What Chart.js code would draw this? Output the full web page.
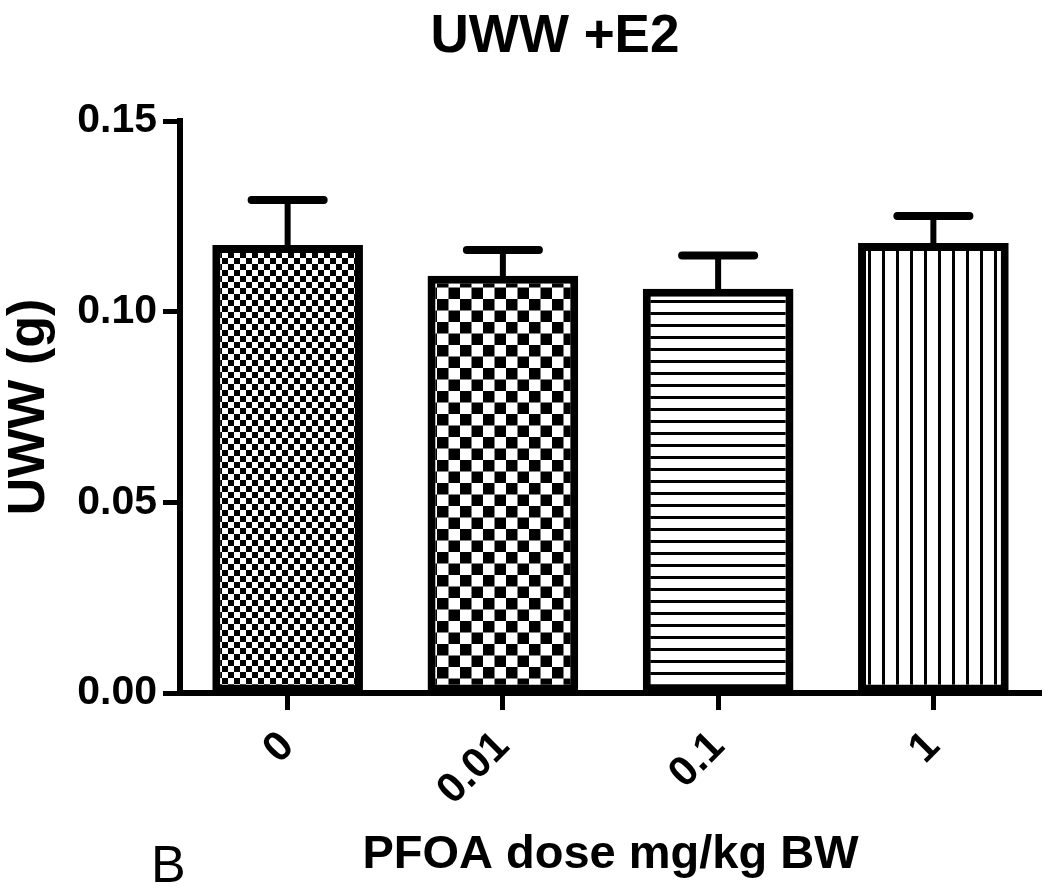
<!DOCTYPE html>
<html>
<head>
<meta charset="utf-8">
<script src="https://cdn.jsdelivr.net/npm/chart.js@4/dist/chart.umd.min.js"></script>
<style>
  html, body { margin: 0; padding: 0; background: #ffffff; }
  #c { display: block; }
</style>
</head>
<body>
<canvas id="c" width="1050" height="893"></canvas>
<script>
// ---- data ----
const categories = ["0", "0.01", "0.1", "1"];
const means = [0.1175, 0.1094, 0.1060, 0.1180];
const sems = [0.0118, 0.0068, 0.0087, 0.0071];
const yTicks = [0.00, 0.05, 0.10, 0.15];
const chartTitle = "UWW +E2";
const xTitle = "PFOA dose mg/kg BW";
const yTitle = "UWW (g)";
const panelLabel = "B";

const FONT = "'Liberation Sans', Arial, Helvetica, sans-serif";

// ---- fill patterns ----
function makePattern(w, h, draw) {
  const c = document.createElement('canvas');
  c.width = w; c.height = h;
  const g = c.getContext('2d');
  g.fillStyle = '#fff'; g.fillRect(0, 0, w, h);
  g.fillStyle = '#000';
  draw(g, w, h);
  return document.getElementById('c').getContext('2d').createPattern(c, 'repeat');
}
const patFineChecker = makePattern(12, 12, (g) => { g.fillRect(0, 0, 6, 6); g.fillRect(6, 6, 6, 6); });
const patCoarseChecker = makePattern(23, 23, (g) => { g.fillRect(0, 0, 11.5, 11.5); g.fillRect(11.5, 11.5, 11.5, 11.5); });
const patHLines = makePattern(12, 12, (g) => { g.fillRect(0, 0, 12, 3); });
const patVLines = makePattern(14, 14, (g) => { g.fillRect(0, 0, 3, 14); });
const fills = [patFineChecker, patCoarseChecker, patHLines, patVLines];

// ---- plugins ----
const errorBars = {
  id: 'errorBars',
  afterDatasetsDraw(chart) {
    const ctx = chart.ctx;
    const meta = chart.getDatasetMeta(0);
    const y = chart.scales.y;
    ctx.save();
    ctx.strokeStyle = '#000';
    ctx.lineCap = 'round';
    meta.data.forEach((bar, i) => {
      const x = bar.x;
      const yTop = y.getPixelForValue(means[i]);
      const yErr = y.getPixelForValue(means[i] + sems[i]);
      ctx.lineWidth = 6;
      ctx.beginPath();
      ctx.moveTo(x, yTop);
      ctx.lineTo(x, yErr);
      ctx.stroke();
      ctx.lineWidth = 8;
      ctx.beginPath();
      ctx.moveTo(x - 36, yErr);
      ctx.lineTo(x + 36, yErr);
      ctx.stroke();
    });
    ctx.restore();
  }
};

const extraText = {
  id: 'extraText',
  afterDraw(chart) {
    const ctx = chart.ctx;
    ctx.save();
    ctx.fillStyle = '#000';
    ctx.textAlign = 'center';
    ctx.textBaseline = 'alphabetic';
    ctx.font = "bold 53px " + FONT;
    ctx.fillText(chartTitle, 555, 52);
    ctx.textAlign = 'left';
    ctx.font = "52px " + FONT;
    ctx.fillText(panelLabel, 151, 882);
    ctx.restore();
  }
};

new Chart(document.getElementById('c'), {
  type: 'bar',
  data: {
    labels: categories,
    datasets: [{
      data: means,
      backgroundColor: fills,
      borderColor: '#000',
      borderWidth: 8,
      borderSkipped: false,
      categoryPercentage: 1.0,
      barPercentage: 0.70
    }]
  },
  options: {
    responsive: false,
    animation: false,
    devicePixelRatio: 1,
    layout: { padding: { top: 121, right: 9, left: 0, bottom: 0 } },
    plugins: {
      legend: { display: false },
      title: { display: false },
      tooltip: { enabled: false }
    },
    scales: {
      x: {
        grid: { display: true, offset: false, drawOnChartArea: false, drawTicks: true, tickLength: 17, tickWidth: 5, tickColor: '#000' },
        border: { display: true, width: 6, color: '#000' },
        ticks: {
          color: '#000',
          font: { family: FONT, size: 42, weight: 'bold' },
          minRotation: 45, maxRotation: 45,
          padding: 12
        },
        title: {
          display: true, text: xTitle, color: '#000',
          font: { family: FONT, size: 47, weight: 'bold' },
          padding: { top: 0, bottom: 10 }
        },
        afterFit(s) { s.height = 200; }
      },
      y: {
        min: 0, max: 0.15,
        afterBuildTicks(s) { s.ticks = yTicks.map(v => ({ value: v })); },
        grid: { display: true, drawOnChartArea: false, drawTicks: true, tickLength: 17, tickWidth: 5, tickColor: '#000' },
        border: { display: true, width: 6, color: '#000' },
        ticks: {
          color: '#000',
          font: { family: FONT, size: 41, weight: 'bold' },
          padding: 6,
          callback: (v) => Number(v).toFixed(2)
        },
        title: {
          display: true, text: yTitle, color: '#000',
          font: { family: FONT, size: 52, weight: 'bold' },
          padding: { top: -2, bottom: 0 }
        },
        afterFit(s) { s.width = 180; }
      }
    }
  },
  plugins: [errorBars, extraText]
});
</script>
</body>
</html>
